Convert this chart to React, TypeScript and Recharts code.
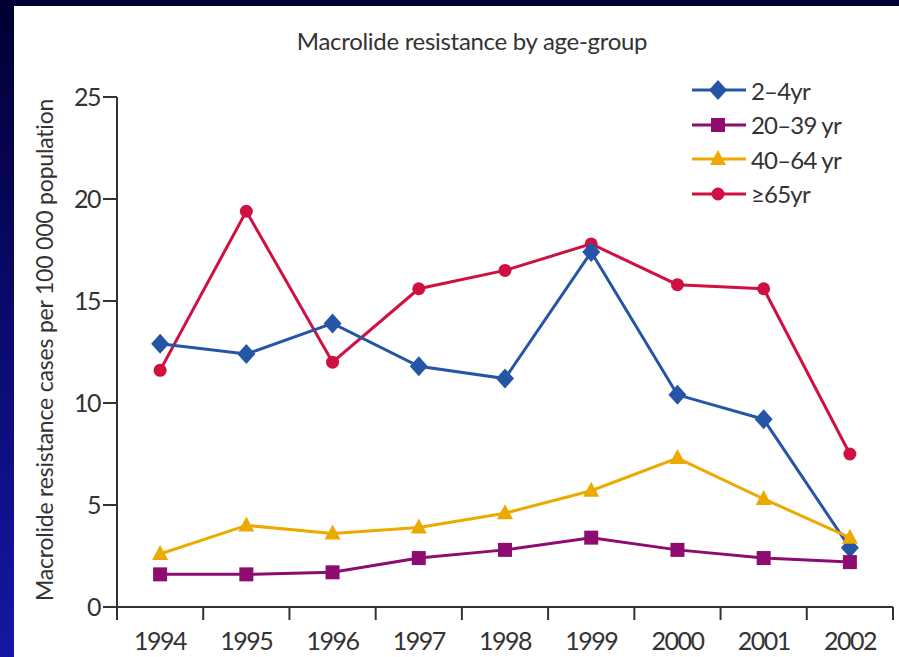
import { LineChart, Line, XAxis, YAxis, Legend } from 'recharts';

const years = ['1994', '1995', '1996', '1997', '1998', '1999', '2000', '2001', '2002'];
const age2to4 = [12.9, 12.4, 13.9, 11.8, 11.2, 17.4, 10.4, 9.2, 2.9];
const age20to39 = [1.6, 1.6, 1.7, 2.4, 2.8, 3.4, 2.8, 2.4, 2.2];
const age40to64 = [2.6, 4.0, 3.6, 3.9, 4.6, 5.7, 7.3, 5.3, 3.4];
const age65plus = [11.6, 19.4, 12.0, 15.6, 16.5, 17.8, 15.8, 15.6, 7.5];
const yTicks = [0, 5, 10, 15, 20, 25];

const data = years.map((year, i) => ({
  year,
  a: age2to4[i],
  b: age20to39[i],
  c: age40to64[i],
  d: age65plus[i],
}));

type Shape = 'diamond' | 'square' | 'triangle' | 'circle';

const series: { key: string; name: string; color: string; shape: Shape }[] = [
  { key: 'd', name: '≥65yr', color: '#d01040', shape: 'circle' },
  { key: 'a', name: '2–4yr', color: '#2556a6', shape: 'diamond' },
  { key: 'b', name: '20–39 yr', color: '#8e0c70', shape: 'square' },
  { key: 'c', name: '40–64 yr', color: '#ecaa00', shape: 'triangle' },
];
const legendOrder = ['a', 'b', 'c', 'd'];

const FONT = 'Lato, "Open Sans", sans-serif';
const TEXT = '#333';
const W = 899;
const H = 657;
const PLOT_LEFT = 117;
const PLOT_RIGHT = 893;
const HALF_BAND = (PLOT_RIGHT - PLOT_LEFT) / years.length / 2;

function Marker({ shape, cx, cy, color }: { shape: Shape; cx: number; cy: number; color: string }) {
  if (cx == null || cy == null) return null;
  switch (shape) {
    case 'diamond':
      return <polygon points={`${cx},${cy - 10} ${cx + 9},${cy} ${cx},${cy + 10} ${cx - 9},${cy}`} fill={color} />;
    case 'square':
      return <rect x={cx - 7} y={cy - 7} width={14} height={14} fill={color} />;
    case 'triangle':
      return <polygon points={`${cx},${cy - 9} ${cx + 8},${cy + 6} ${cx - 8},${cy + 6}`} fill={color} />;
    default:
      return <circle cx={cx} cy={cy} r={6.5} fill={color} />;
  }
}

function YearTick(props: any) {
  const { x, y, payload, index } = props;
  const axisY = y - 8;
  return (
    <g>
      <line x1={x - HALF_BAND} y1={axisY} x2={x - HALF_BAND} y2={axisY + 13} stroke={TEXT} strokeWidth={2} />
      {index === years.length - 1 && (
        <line x1={x + HALF_BAND} y1={axisY} x2={x + HALF_BAND} y2={axisY + 13} stroke={TEXT} strokeWidth={2} />
      )}
      <text
        x={x}
        y={axisY + 43}
        textAnchor="middle"
        fill={TEXT}
        fontSize={25}
        letterSpacing={-1.5}
        fontFamily={FONT}
      >
        {payload.value}
      </text>
    </g>
  );
}

function LegendBox(props: any) {
  const entries = (props.payload || []).slice().sort(
    (p: any, q: any) => legendOrder.indexOf(p.dataKey) - legendOrder.indexOf(q.dataKey)
  );
  return (
    <div>
      {entries.map((entry: any) => {
        const s = series.find(item => item.key === entry.dataKey)!;
        return (
          <div key={s.key} style={{ display: 'flex', alignItems: 'center', height: 34.5 }}>
            <svg width={58} height={24}>
              <line x1={2} y1={12} x2={56} y2={12} stroke={s.color} strokeWidth={3} />
              <Marker shape={s.shape} cx={28} cy={12} color={s.color} />
            </svg>
            <span
              style={{ fontFamily: FONT, fontSize: 24, letterSpacing: -0.8, color: TEXT, marginLeft: 3 }}
            >
              {s.name}
            </span>
          </div>
        );
      })}
    </div>
  );
}

export default function App() {
  return (
    <div
      style={{
        position: 'absolute',
        left: 0,
        top: 0,
        width: W,
        height: H,
        background: 'linear-gradient(to bottom, #000033 0%, #0a0a70 50%, #1616a4 100%)',
      }}
    >
      <div style={{ position: 'absolute', left: 14, top: 6, width: W - 14, height: H - 6, background: '#ffffff' }} />
      <div
        style={{
          position: 'absolute',
          left: 14,
          top: 26,
          width: 916,
          textAlign: 'center',
          fontFamily: FONT,
          fontSize: 24,
          letterSpacing: -0.3,
          color: TEXT,
        }}
      >
        Macrolide resistance by age-group
      </div>
      <div style={{ position: 'absolute', left: 0, top: 0 }}>
        <LineChart width={W} height={H} data={data} margin={{ top: 97, right: W - PLOT_RIGHT, bottom: 0, left: 0 }}>
          <XAxis
            dataKey="year"
            height={50}
            padding={{ left: HALF_BAND, right: HALF_BAND }}
            tickLine={false}
            axisLine={{ stroke: TEXT, strokeWidth: 2 }}
            tick={<YearTick />}
            interval={0}
          />
          <YAxis
            width={PLOT_LEFT}
            domain={[0, 25]}
            ticks={yTicks}
            tickSize={14}
            tickMargin={3}
            axisLine={{ stroke: TEXT, strokeWidth: 2 }}
            tickLine={{ stroke: TEXT, strokeWidth: 2 }}
            tick={{ fill: TEXT, fontSize: 25, fontFamily: FONT, letterSpacing: -1.5 }}
            label={() => (
              <text
                transform="translate(53,350) rotate(-90)"
                textAnchor="middle"
                fill={TEXT}
                fontSize={23}
                letterSpacing={-0.2}
                fontFamily={FONT}
              >
                Macrolide resistance cases per 100 000 population
              </text>
            )}
          />
          <Legend
            layout="vertical"
            align="center"
            verticalAlign="middle"
            content={<LegendBox />}
            wrapperStyle={{ position: 'absolute', left: 690, top: 73, width: 200 }}
          />
          {series.map(s => (
            <Line
              key={s.key}
              type="linear"
              dataKey={s.key}
              name={s.name}
              stroke={s.color}
              strokeWidth={3}
              isAnimationActive={false}
              dot={(p: any) => <Marker key={`${s.key}-${p.index}`} shape={s.shape} cx={p.cx} cy={p.cy} color={s.color} />}
              activeDot={false}
            />
          ))}
        </LineChart>
      </div>
    </div>
  );
}
